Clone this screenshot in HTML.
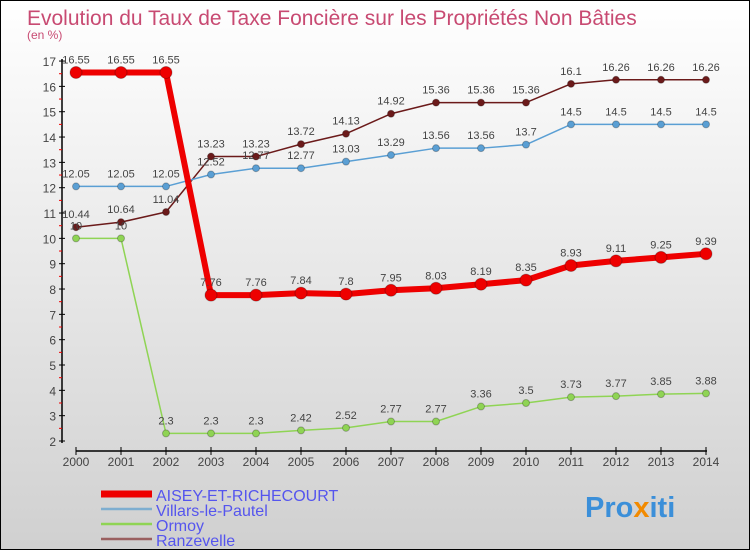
<!DOCTYPE html>
<html><head><meta charset="utf-8"><style>
body{margin:0}
#c{width:750px;height:550px;position:relative;box-sizing:border-box;border:1px solid #000;background:linear-gradient(#fff,#d0d0d0);font-family:"Liberation Sans",sans-serif;overflow:hidden}
</style></head><body>
<div id="c">
<svg id="s" width="748" height="548" style="position:absolute;left:0;top:0">
<text x="26" y="24" font-size="21" fill="#c84a72">Evolution du Taux de Taxe Foncière sur les Propriétés Non Bâties</text>
<text x="26" y="38" font-size="12" fill="#c84a72">(en %)</text>
<g id="g"></g>
<text x="584" y="516" font-size="29" font-weight="bold" fill="#3b8fd9">Pro<tspan fill="#f28a00">x</tspan>iti</text>
</svg>
</div>
<script>
const years=[2000,2001,2002,2003,2004,2005,2006,2007,2008,2009,2010,2011,2012,2013,2014];
const aisey=[16.55,16.55,16.55,7.76,7.76,7.84,7.8,7.95,8.03,8.19,8.35,8.93,9.11,9.25,9.39];
const villars=[12.05,12.05,12.05,12.52,12.77,12.77,13.03,13.29,13.56,13.56,13.7,14.5,14.5,14.5,14.5];
const ormoy=[10,10,2.3,2.3,2.3,2.42,2.52,2.77,2.77,3.36,3.5,3.73,3.77,3.85,3.88];
const ranz=[10.44,10.64,11.04,13.23,13.23,13.72,14.13,14.92,15.36,15.36,15.36,16.1,16.26,16.26,16.26];
const yTicks=[2,3,4,5,6,7,8,9,10,11,12,13,14,15,16,17];
const names=["AISEY-ET-RICHECOURT","Villars-le-Pautel","Ormoy","Ranzevelle"];
const NS="http://www.w3.org/2000/svg";
const g=document.getElementById('g');
const X=i=>75+i*45;
const Y=v=>440-(v-2)*25.33;
function el(t,a,p){const e=document.createElementNS(NS,t);for(const k in a)e.setAttribute(k,a[k]);(p||g).appendChild(e);return e;}
let ya=el('line',{x1:61,y1:58,x2:61,y2:442,stroke:'#000','stroke-width':1.5});

let xa=el('line',{x1:75,y1:450,x2:706,y2:450,stroke:'#000','stroke-width':1.5});

yTicks.forEach(v=>{el('line',{x1:58,y1:Y(v),x2:64,y2:Y(v),stroke:'#000'});
 if(v<17)el('line',{x1:58,y1:Y(v+0.5),x2:61,y2:Y(v+0.5),stroke:'#e00'});
 const t=el('text',{x:55,y:Y(v)+5,'font-size':12,'text-anchor':'end',fill:'#444'});t.textContent=v;
 });
years.forEach((y,i)=>{el('line',{x1:X(i),y1:446,x2:X(i),y2:454,stroke:'#000'});
 const t=el('text',{x:X(i),y:465,'font-size':12,'text-anchor':'middle',fill:'#444'});t.textContent=y;
 });
function series(d,col,w,r,name){
 const p=el('polyline',{points:d.map((v,i)=>X(i)+','+Y(v)).join(' '),fill:'none',stroke:col,'stroke-width':w,'stroke-linejoin':'round'});
 
 d.forEach((v,i)=>{const c=el('circle',{cx:X(i),cy:Y(v),r:r,fill:col,stroke:'rgba(0,0,0,0.25)'});
  
  const t=el('text',{x:X(i),y:Y(v)-9,'font-size':11,'text-anchor':'middle',fill:'#444'});t.textContent=v;
  });
}
series(ranz,'#6b1a1a',1.5,3.5,'ranzevelle');
series(villars,'#5a9fd4',1.5,3.5,'villars');
series(ormoy,'#8fd454',1.5,3.5,'ormoy');
series(aisey,'#ee0000',6,6,'aisey');
const lc=['#ee0000','#7eaed0','#8fd454','#9a6060'],lw=[7,2.5,2.5,2.5];
names.forEach((n,i)=>{const y=493+i*15;
 const l=el('line',{x1:100,y1:y,x2:151,y2:y,stroke:lc[i],'stroke-width':lw[i]});
 
 const t=el('text',{x:155,y:y+7,'font-size':16,fill:'#5555ee'});t.textContent=n;
 });
</script>
</body></html>
